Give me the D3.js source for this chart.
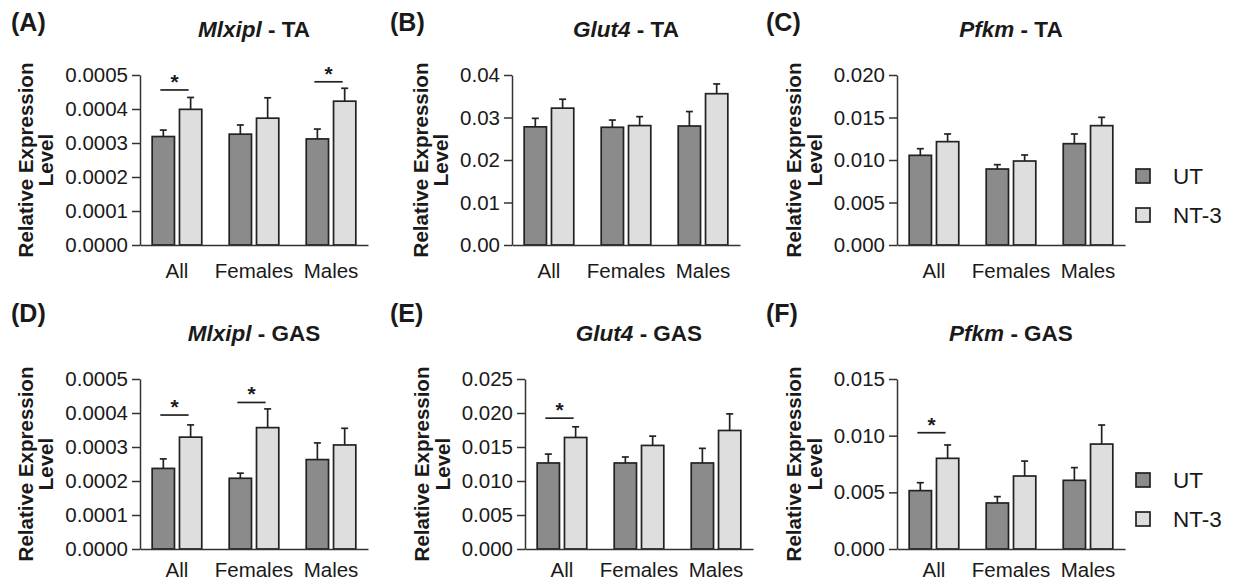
<!DOCTYPE html>
<html>
<head>
<meta charset="utf-8">
<script src="https://cdn.jsdelivr.net/npm/d3@7"></script>
<style>
  body { margin: 0; background: #fff; }
  svg text { font-family: "Liberation Sans", Arial, sans-serif; fill: #1a1a1a; }
</style>
</head>
<body>
<svg id="chart" width="1233" height="583"></svg>
<script>
const groups = ["All", "Females", "Males"];
const series = ["UT", "NT-3"];

// Mlxipl - TA
const mlxiplTA_ut = [0.000319, 0.000326, 0.000312];
const mlxiplTA_utErr = [0.000019, 0.000027, 0.000029];
const mlxiplTA_nt = [0.000399, 0.000373, 0.000423];
const mlxiplTA_ntErr = [0.000035, 0.000060, 0.000038];
const mlxiplTA_sig = [["All", 0.000456], ["Males", 0.00048]];

// Glut4 - TA
const glut4TA_ut = [0.0278, 0.0277, 0.0280];
const glut4TA_utErr = [0.0020, 0.0017, 0.0034];
const glut4TA_nt = [0.0322, 0.0281, 0.0356];
const glut4TA_ntErr = [0.0021, 0.0021, 0.0023];
const glut4TA_sig = [];

// Pfkm - TA
const pfkmTA_ut = [0.01055, 0.00894, 0.01192];
const pfkmTA_utErr = [0.00078, 0.00051, 0.00114];
const pfkmTA_nt = [0.01216, 0.00988, 0.01404];
const pfkmTA_ntErr = [0.00090, 0.00071, 0.00098];
const pfkmTA_sig = [];

// Mlxipl - GAS
const mlxiplGAS_ut = [0.000237, 0.000208, 0.000263];
const mlxiplGAS_utErr = [0.000028, 0.000015, 0.000049];
const mlxiplGAS_nt = [0.000329, 0.000357, 0.000306];
const mlxiplGAS_ntErr = [0.000036, 0.000055, 0.000049];
const mlxiplGAS_sig = [["All", 0.000394], ["Females", 0.000431]];

// Glut4 - GAS
const glut4GAS_ut = [0.01265, 0.01265, 0.01265];
const glut4GAS_utErr = [0.00131, 0.00088, 0.00215];
const glut4GAS_nt = [0.01640, 0.01523, 0.01743];
const glut4GAS_ntErr = [0.00157, 0.00137, 0.00244];
const glut4GAS_sig = [["All", 0.01924]];

// Pfkm - GAS
const pfkmGAS_ut = [0.00515, 0.00406, 0.00606];
const pfkmGAS_utErr = [0.00070, 0.00056, 0.00112];
const pfkmGAS_nt = [0.00800, 0.00644, 0.00926];
const pfkmGAS_ntErr = [0.00118, 0.00132, 0.00168];
const pfkmGAS_sig = [["All", 0.01026]];

// y tick values
const ticksMlxipl = [0, 0.0001, 0.0002, 0.0003, 0.0004, 0.0005];
const ticksGlut4TA = [0, 0.01, 0.02, 0.03, 0.04];
const ticksPfkmTA = [0, 0.005, 0.010, 0.015, 0.020];
const ticksGlut4GAS = [0, 0.005, 0.010, 0.015, 0.020, 0.025];
const ticksPfkmGAS = [0, 0.005, 0.010, 0.015];

const W = 228, H = 170;
const colors = { "UT": "#8b8b8b", "NT-3": "#dedede" };
const ink = "#222";

const panels = [
  { letter: "(A)", gene: "Mlxipl", tissue: "TA", ax: 140, top: 75, letterY: 31, xPad: 18,
    ticks: ticksMlxipl, fmt: ".4f", ut: mlxiplTA_ut, utErr: mlxiplTA_utErr, nt: mlxiplTA_nt, ntErr: mlxiplTA_ntErr, sig: mlxiplTA_sig },
  { letter: "(B)", gene: "Glut4", tissue: "TA", ax: 512, top: 75, letterY: 31, xPad: 18,
    ticks: ticksGlut4TA, fmt: ".2f", ut: glut4TA_ut, utErr: glut4TA_utErr, nt: glut4TA_nt, ntErr: glut4TA_ntErr, sig: glut4TA_sig },
  { letter: "(C)", gene: "Pfkm", tissue: "TA", ax: 897, top: 75, letterY: 31, xPad: 18, legend: true,
    ticks: ticksPfkmTA, fmt: ".3f", ut: pfkmTA_ut, utErr: pfkmTA_utErr, nt: pfkmTA_nt, ntErr: pfkmTA_ntErr, sig: pfkmTA_sig },
  { letter: "(D)", gene: "Mlxipl", tissue: "GAS", ax: 140, top: 379, letterY: 322, xPad: 13,
    ticks: ticksMlxipl, fmt: ".4f", ut: mlxiplGAS_ut, utErr: mlxiplGAS_utErr, nt: mlxiplGAS_nt, ntErr: mlxiplGAS_ntErr, sig: mlxiplGAS_sig },
  { letter: "(E)", gene: "Glut4", tissue: "GAS", ax: 525, top: 379, letterY: 322, xPad: 13,
    ticks: ticksGlut4GAS, fmt: ".3f", ut: glut4GAS_ut, utErr: glut4GAS_utErr, nt: glut4GAS_nt, ntErr: glut4GAS_ntErr, sig: glut4GAS_sig },
  { letter: "(F)", gene: "Pfkm", tissue: "GAS", ax: 897, top: 379, letterY: 322, xPad: 13, legend: true,
    ticks: ticksPfkmGAS, fmt: ".3f", ut: pfkmGAS_ut, utErr: pfkmGAS_utErr, nt: pfkmGAS_nt, ntErr: pfkmGAS_ntErr, sig: pfkmGAS_sig }
];
const letterX = [11, 390, 766, 11, 390, 766];

const svg = d3.select("#chart");

const x0 = d3.scaleBand().domain(groups).range([0, W]).paddingInner(0.356).paddingOuter(0.158);
const x1 = d3.scaleBand().domain(series).range([0, x0.bandwidth()]).paddingInner(0.183);

panels.forEach((p, pi) => {
  const y = d3.scaleLinear().domain([0, d3.max(p.ticks)]).range([H, 0]);
  const g = svg.append("g").attr("transform", `translate(${p.ax},${p.top})`);

  // panel letter
  svg.append("text")
    .attr("x", letterX[pi]).attr("y", p.letterY)
    .attr("font-size", 25).attr("font-weight", "bold")
    .text(p.letter);

  // title
  const title = g.append("text")
    .attr("x", W / 2).attr("y", -38)
    .attr("text-anchor", "middle")
    .attr("font-size", 22.5).attr("font-weight", "bold");
  title.append("tspan").attr("font-style", "italic").text(p.gene);
  title.append("tspan").text(" - " + p.tissue);

  // bars
  const rows = groups.map((grp, i) => [
    { grp, s: "UT", v: p.ut[i], e: p.utErr[i] },
    { grp, s: "NT-3", v: p.nt[i], e: p.ntErr[i] }
  ]).flat();

  // error bars (upper only)
  const eb = g.append("g").attr("stroke", ink).attr("stroke-width", 1.7);
  rows.forEach(d => {
    const cx = x0(d.grp) + x1(d.s) + x1.bandwidth() / 2;
    eb.append("line").attr("x1", cx).attr("x2", cx).attr("y1", y(d.v)).attr("y2", y(d.v + d.e));
    eb.append("line").attr("x1", cx - 3.5).attr("x2", cx + 3.5).attr("y1", y(d.v + d.e)).attr("y2", y(d.v + d.e));
  });

  g.selectAll("rect.bar")
    .data(rows)
    .enter()
    .append("rect")
    .attr("class", "bar")
    .attr("x", d => x0(d.grp) + x1(d.s))
    .attr("y", d => y(d.v))
    .attr("width", x1.bandwidth())
    .attr("height", d => y(0) - y(d.v))
    .attr("fill", d => colors[d.s])
    .attr("stroke", ink)
    .attr("stroke-width", 1.7);

  // axes
  const yAxis = g.append("g")
    .call(d3.axisLeft(y).tickValues(p.ticks).tickFormat(d3.format(p.fmt)).tickSize(8).tickPadding(4).tickSizeOuter(0));
  yAxis.selectAll("text").attr("font-size", 20.5).attr("fill", "#1a1a1a");
  yAxis.selectAll("line, path").attr("stroke", "#333").attr("stroke-width", 1.5);

  const xAxis = g.append("g")
    .attr("transform", `translate(0,${H})`)
    .call(d3.axisBottom(x0).tickSize(0).tickPadding(p.xPad).tickSizeOuter(0));
  xAxis.selectAll("text").attr("font-size", 20.5).attr("fill", "#1a1a1a");
  xAxis.selectAll("path").attr("stroke", "#333").attr("stroke-width", 1.5);

  // y label, placed left of the tick labels
  const left = d3.min(yAxis.selectAll("text").nodes(), n => n.getBBox().x);
  const lx = left - 12;
  g.append("text")
    .attr("transform", `translate(${lx},${H / 2}) rotate(-90)`)
    .attr("text-anchor", "middle").attr("font-size", 20.5).attr("font-weight", "bold")
    .text("Level");
  g.append("text")
    .attr("transform", `translate(${lx - 20.5},${H / 2}) rotate(-90)`)
    .attr("text-anchor", "middle").attr("font-size", 20.5).attr("font-weight", "bold")
    .text("Relative Expression");

  // significance
  p.sig.forEach(([grp, level]) => {
    const xa = x0(grp) + x1("UT") + x1.bandwidth() / 2 - 3;
    const xb = x0(grp) + x1("NT-3") + x1.bandwidth() / 2 - 2;
    g.append("line")
      .attr("x1", xa).attr("x2", xb).attr("y1", y(level)).attr("y2", y(level))
      .attr("stroke", ink).attr("stroke-width", 1.7);
    g.append("text")
      .attr("x", (xa + xb) / 2).attr("y", y(level) - 1)
      .attr("text-anchor", "middle").attr("font-size", 21).attr("font-weight", "bold")
      .text("*");
  });

  // legend
  if (p.legend) {
    const lg = svg.append("g").attr("transform", `translate(1136,${p.top + 101})`);
    series.forEach((s, i) => {
      lg.append("rect")
        .attr("x", 0).attr("y", i * 39 - 7)
        .attr("width", 14).attr("height", 14)
        .attr("fill", colors[s]).attr("stroke", ink).attr("stroke-width", 1.7);
      lg.append("text")
        .attr("x", 37).attr("y", i * 39)
        .attr("dy", "0.36em")
        .attr("font-size", 22.5)
        .text(s);
    });
  }
});
</script>
</body>
</html>
